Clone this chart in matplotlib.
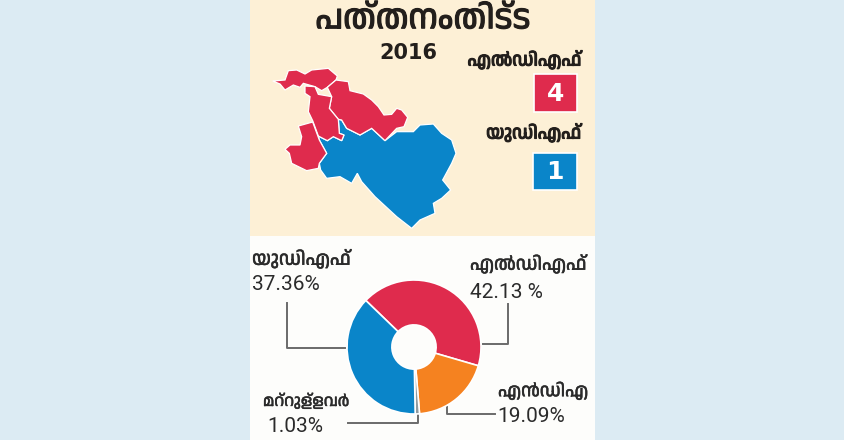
import matplotlib
matplotlib.use("Agg")
import matplotlib.pyplot as plt
import matplotlib.patheffects as pe
from matplotlib.patches import Polygon, Rectangle

# vote share
shares = [42.13, 19.09, 1.03, 37.36]
share_colors = ["#df2b4d", "#f58220", "#8f9a9f", "#0a85c9"]

# seats
ldf_seats = 4
udf_seats = 1

title = "പത്തനംതിട്ട"
year = "2016"
ldf = "എൽഡിഎഫ്"
udf = "യുഡിഎഫ്"
nda = "എൻഡിഎ"
others = "മറ്റുള്ളവർ"

red_1 = [(68,243),(105,240),(115,212),(140,210),(165,222),(185,210),(235,205),(262,228),(258,240),
         (232,262),(215,272),(195,260),(160,250),(150,262),(130,255),(105,270),(90,252)]
red_2 = [(232,262),(258,240),(295,245),(300,272),(340,282),(365,300),(385,320),(402,345),(425,343),
         (440,325),(455,330),(473,352),(462,380),(440,385),(405,422),(365,385),(330,405),(290,385),
         (275,360),(265,358),(238,325),(245,290)]
red_3 = [(165,258),(195,260),(205,283),(245,290),(238,325),(265,358),(268,400),(282,405),(275,422),
         (250,410),(232,422),(205,408),(188,362),(175,335),(180,290),(165,280)]
red_4 = [(145,378),(188,366),(208,420),(230,460),(208,490),(205,505),(170,512),(125,490),(118,460),
         (105,448),(120,435),(150,435),(155,410)]
blue_1 = [(275,360),(290,385),(330,405),(365,385),(405,422),(440,395),(490,395),(510,375),(550,372),
          (575,400),(605,420),(618,460),(605,490),(578,540),(602,570),(575,595),(550,610),(555,640),
          (510,660),(485,685),(440,650),(375,590),(335,545),(322,520),(305,550),(270,530),(230,535),
          (212,510),(208,490),(230,460),(208,420),(205,408),(232,422),(250,410),(275,422),(282,405),
          (268,400),(265,358)]

mal = ["Anek Malayalam", "FreeSans", "DejaVu Sans"]
plt.rcParams["font.family"] = ["Roboto", "DejaVu Sans"]

fig = plt.figure(figsize=(8.45, 4.4), dpi=100, facecolor="#dcebf3")

# whole picture in pixels
ax = fig.add_axes([0, 0, 1, 1])
ax.set_xlim(0, 845)
ax.set_ylim(440, 0)
ax.axis("off")
ax.add_patch(Rectangle((250, 0), 345, 236, color="#fdf0d6", lw=0))
ax.add_patch(Rectangle((250, 236), 345, 204, color="#fdfdfb", lw=0))

# map, same scale as the traced outlines
ax_map = fig.add_axes([250/845, 1 - 235/440, 345/845, 235/440])
ax_map.set_xlim(0, 1035)
ax_map.set_ylim(705, 0)
ax_map.axis("off")
for pts in [blue_1, red_1, red_2, red_3, red_4]:
    col = "#0a85c9" if pts is blue_1 else "#df2b4d"
    ax_map.add_patch(Polygon(pts, closed=True, fc=col, ec="white", lw=0.9))

ax_map.add_patch(Rectangle((852, 223), 130, 113, fc="#df2b4d", ec="white", lw=1.2))
ax_map.add_patch(Rectangle((850, 458), 130, 112, fc="#0a85c9", ec="white", lw=1.2))
ax_map.text(916, 281, str(ldf_seats), color="white", fontsize=18, fontweight="bold",
            ha="center", va="center", family="DejaVu Sans")
ax_map.text(915, 515, str(udf_seats), color="white", fontsize=18, fontweight="bold",
            ha="center", va="center", family="DejaVu Sans")

# no bold cut of the Malayalam face, so fatten it with a stroke
fat = [pe.withStroke(linewidth=0.8, foreground="#231f1c")]
ax.text(423, 20, title, fontsize=24, ha="center", va="center", color="#231f1c", family=mal,
        path_effects=fat)
ax.text(408, 53, year, fontsize=15, fontweight="bold", ha="center", va="center",
        color="#231f1c", family="DejaVu Sans")
ax.text(581, 60, ldf, fontsize=13.2, ha="right", va="center", color="#231f1c", family=mal,
        path_effects=fat)
ax.text(581, 133, udf, fontsize=13.2, ha="right", va="center", color="#231f1c", family=mal,
        path_effects=fat)

# donut
r = 67
ax_pie = fig.add_axes([(414 - r)/845, 1 - (347 + r)/440, 2*r/845, 2*r/440])
ax_pie.pie(shares, colors=share_colors, startangle=136, counterclock=False, radius=1,
           wedgeprops=dict(width=0.67, edgecolor="white", linewidth=1.2))
ax_pie.set_xlim(-1, 1)
ax_pie.set_ylim(-1, 1)

# leader lines
line = dict(color="#6b6b6b", lw=1.4)
ax.plot([287, 287, 345], [303, 348, 348], **line)
ax.plot([508, 508, 483], [304, 344, 344], **line)
ax.plot([447, 447, 495], [407, 414, 414], **line)
ax.plot([418, 418, 348], [415, 423, 423], **line)

# labels
dark = "#2b2b2b"
thin = [pe.withStroke(linewidth=0.3, foreground=dark)]
ax.text(252, 259, udf, fontsize=13.7, ha="left", va="center", color=dark, family=mal, path_effects=thin)
ax.text(252, 285, "37.36%", fontsize=15, ha="left", va="center", color=dark)
ax.text(470, 264, ldf, fontsize=13.5, ha="left", va="center", color=dark, family=mal, path_effects=thin)
ax.text(470, 292, "42.13 %", fontsize=15, ha="left", va="center", color=dark)
ax.text(498, 391, nda, fontsize=13, ha="left", va="center", color=dark, family=mal, path_effects=thin)
ax.text(497, 417, "19.09%", fontsize=15, ha="left", va="center", color=dark)
ax.text(263, 401, others, fontsize=11.5, ha="left", va="center", color=dark, family=mal, path_effects=thin)
ax.text(267, 427, "1.03%", fontsize=15, ha="left", va="center", color=dark)

fig.savefig("out.png", dpi=100, facecolor=fig.get_facecolor())
